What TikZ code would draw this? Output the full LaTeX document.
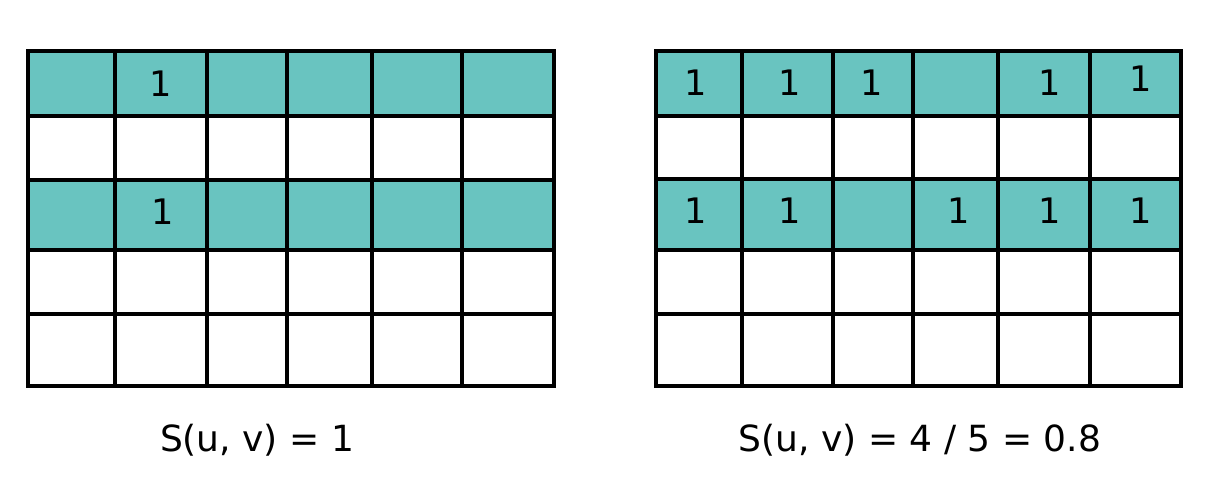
\documentclass[tikz,border=0pt]{standalone}
\usepackage{fontspec}
\setmainfont{DejaVu Sans}
\definecolor{tealfill}{HTML}{69C4C0}
\usepackage{tikz}

\begin{document}
\begin{tikzpicture}[x=0.02cm,y=-0.02cm,
    gridline/.style={black,line width=2.1pt},
    cellnum/.style={anchor=base,inner sep=0pt,font=\fontsize{20}{24}\selectfont},
    caption/.style={anchor=base,inner sep=0pt,font=\fontsize{20.5}{24}\selectfont}]
  \useasboundingbox (0,0) rectangle (1206,502);

  % Left grid: shaded rows
  \fill[tealfill] (28,51) rectangle (554,116);
  \fill[tealfill] (28,180) rectangle (554,250);
  \node[cellnum] (la) at (161,97) {1};
  \node[cellnum] (lb) at (163,225) {1};

  % Left grid lines
  \draw[gridline] (28,51) rectangle (554,386);
  \draw[gridline] (28,116) -- (554,116);
  \draw[gridline] (28,180) -- (554,180);
  \draw[gridline] (28,250) -- (554,250);
  \draw[gridline] (28,314) -- (554,314);
  \draw[gridline] (115,51) -- (115,386);
  \draw[gridline] (207,51) -- (207,386);
  \draw[gridline] (287,51) -- (287,386);
  \draw[gridline] (372,51) -- (372,386);
  \draw[gridline] (462,51) -- (462,386);

  % Right grid: shaded rows
  \fill[tealfill] (656,51) rectangle (1181,116);
  \fill[tealfill] (656,179) rectangle (1181,250);
  \node[cellnum] (ra1) at (696,96) {1};
  \node[cellnum] (ra2) at (790,96) {1};
  \node[cellnum] (ra3) at (872,96) {1};
  \node[cellnum] (ra5) at (1050,96) {1};
  \node[cellnum] (ra6) at (1141,92) {1};
  \node[cellnum] (rb1) at (696,224) {1};
  \node[cellnum] (rb2) at (790,224) {1};
  \node[cellnum] (rb4) at (959,224) {1};
  \node[cellnum] (rb5) at (1050,224) {1};
  \node[cellnum] (rb6) at (1141,224) {1};

  % Right grid lines
  \draw[gridline] (656,51) rectangle (1181,386);
  \draw[gridline] (656,116) -- (1181,116);
  \draw[gridline] (656,179) -- (1181,179);
  \draw[gridline] (656,250) -- (1181,250);
  \draw[gridline] (656,314) -- (1181,314);
  \draw[gridline] (742,51) -- (742,386);
  \draw[gridline] (833,51) -- (833,386);
  \draw[gridline] (913,51) -- (913,386);
  \draw[gridline] (998,51) -- (998,386);
  \draw[gridline] (1090,51) -- (1090,386);

  % Captions
  \node[caption] (lcap) at (257,452) {S(u, v) = 1};
  \node[caption] (rcap) at (920,452) {S(u, v) = 4 / 5 = 0.8};
\end{tikzpicture}
\end{document}
